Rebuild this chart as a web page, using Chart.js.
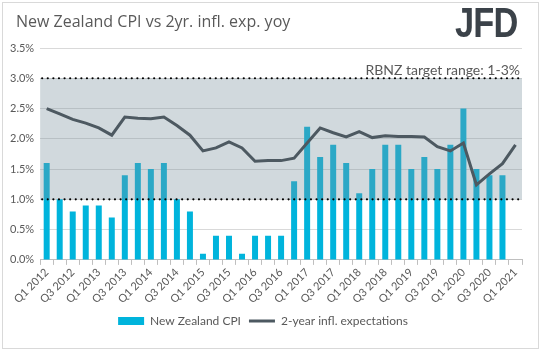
<!DOCTYPE html>
<html>
<head>
<meta charset="utf-8">
<script src="https://cdn.jsdelivr.net/npm/chart.js@4"></script>
<style>
  body { margin: 0; background: #fff; }
  #wrap { position: relative; width: 544px; height: 353px; }
  #frame { position: absolute; left: 2px; top: 2px; width: 537px; height: 347px; border: 1px solid #d9d9d9; box-sizing: border-box; }
  #title { position: absolute; left: 16px; top: 10px; font-family: "Open Sans", sans-serif; font-size: 16px; color: #595959; white-space: nowrap; }
  #logo { position: absolute; left: 455px; top: -2px; font-family: "Liberation Sans", sans-serif; font-weight: bold; font-size: 43px; line-height: 49px; color: #3b4249; transform: scaleX(0.8); transform-origin: left top; letter-spacing: -1px; }
  canvas { position: absolute; left: 0; top: 0; }
</style>
</head>
<body>
<div id="wrap">
  <div id="frame"></div>
  <canvas id="chart" width="544" height="353"></canvas>
  <div id="title">New Zealand CPI vs 2yr. infl. exp. yoy</div>
  <div id="logo">JFD</div>
</div>
<script>
const quarters = ["Q1 2012","Q2 2012","Q3 2012","Q4 2012","Q1 2013","Q2 2013","Q3 2013","Q4 2013",
  "Q1 2014","Q2 2014","Q3 2014","Q4 2014","Q1 2015","Q2 2015","Q3 2015","Q4 2015",
  "Q1 2016","Q2 2016","Q3 2016","Q4 2016","Q1 2017","Q2 2017","Q3 2017","Q4 2017",
  "Q1 2018","Q2 2018","Q3 2018","Q4 2018","Q1 2019","Q2 2019","Q3 2019","Q4 2019",
  "Q1 2020","Q2 2020","Q3 2020","Q4 2020","Q1 2021"];
const cpi = [1.6,1.0,0.8,0.9,0.9,0.7,1.4,1.6,1.5,1.6,1.0,0.8,0.1,0.4,0.4,0.1,0.4,0.4,0.4,1.3,
  2.2,1.7,1.9,1.6,1.1,1.5,1.9,1.9,1.5,1.7,1.5,1.9,2.5,1.5,1.4,1.4,null];
const expectations = [2.50,2.41,2.32,2.26,2.18,2.06,2.36,2.34,2.33,2.36,2.22,2.06,1.80,1.85,1.95,1.85,
  1.63,1.64,1.64,1.68,1.93,2.18,2.10,2.03,2.12,2.02,2.05,2.04,2.04,2.03,1.87,1.80,1.93,1.24,1.42,1.59,1.90];
const targetLow = 1;
const targetHigh = 3;
const targetText = "RBNZ target range: 1-3%";

const ctx = document.getElementById("chart").getContext("2d");

// grey band + dotted limits go over the bars but under the line
const targetBand = {
  id: "targetBand",
  afterDatasetDraw(chart, args) {
    if (args.index !== 0) return;
    const c = chart.ctx;
    const area = chart.chartArea;
    const y = chart.scales.y;
    const top = y.getPixelForValue(targetHigh);
    const bottom = y.getPixelForValue(targetLow);
    c.save();
    c.fillStyle = "rgba(124,145,158,0.35)";
    c.fillRect(area.left, top, area.right - area.left, bottom - top);
    c.strokeStyle = "#000";
    c.lineWidth = 2.2;
    c.lineCap = "round";
    c.setLineDash([0, 5.6]);
    [top, bottom].forEach(py => {
      c.beginPath();
      c.moveTo(area.left + 2, py);
      c.lineTo(area.right - 2, py);
      c.stroke();
    });
    c.restore();
  },
  afterDraw(chart) {
    const c = chart.ctx;
    const area = chart.chartArea;
    const top = chart.scales.y.getPixelForValue(targetHigh);
    c.save();
    c.fillStyle = "#595959";
    c.font = "14px Lato";
    c.textAlign = "right";
    c.textBaseline = "bottom";
    c.fillText(targetText, area.right - 2, top - 1);
    c.restore();
  }
};

new Chart(ctx, {
  type: "bar",
  data: {
    labels: quarters,
    datasets: [
      {
        label: "New Zealand CPI",
        data: cpi,
        backgroundColor: "#00b4dc",
        barPercentage: 0.46,
        categoryPercentage: 1,
        pointStyle: "rect",
        order: 2
      },
      {
        type: "line",
        label: "2-year infl. expectations",
        data: expectations,
        borderColor: "#4d5961",
        backgroundColor: "#4d5961",
        borderWidth: 3,
        pointRadius: 0,
        tension: 0,
        pointStyle: "line",
        order: 1
      }
    ]
  },
  options: {
    responsive: false,
    animation: false,
    layout: { padding: { top: 48, left: 4, right: 22, bottom: 16 } },
    plugins: {
      tooltip: { enabled: false },
      legend: {
        position: "bottom",
        labels: {
          usePointStyle: true,
          pointStyleWidth: 26,
          boxHeight: 8,
          padding: 8,
          color: "#595959",
          font: { family: "Lato", size: 12 },
          sort: (a, b) => a.datasetIndex - b.datasetIndex
        }
      }
    },
    scales: {
      x: {
        offset: true,
        grid: { offset: true, drawOnChartArea: false, drawTicks: true, tickLength: 5, color: "#bfbfbf" },
        border: { display: true, color: "#bfbfbf" },
        ticks: {
          autoSkip: false,
          maxRotation: 45,
          minRotation: 45,
          padding: 1,
          color: "#595959",
          font: { family: "Lato", size: 11 },
          callback: (v, i) => (i % 2 === 0 ? quarters[i] : "")
        }
      },
      y: {
        min: 0,
        max: 3.5,
        ticks: {
          stepSize: 0.5,
          padding: 6,
          color: "#595959",
          font: { family: "Lato", size: 11 },
          callback: v => v.toFixed(1) + "%"
        },
        grid: { color: "#d9d9d9", drawTicks: false },
        border: { display: false }
      }
    }
  },
  plugins: [targetBand]
});
</script>
</body>
</html>
